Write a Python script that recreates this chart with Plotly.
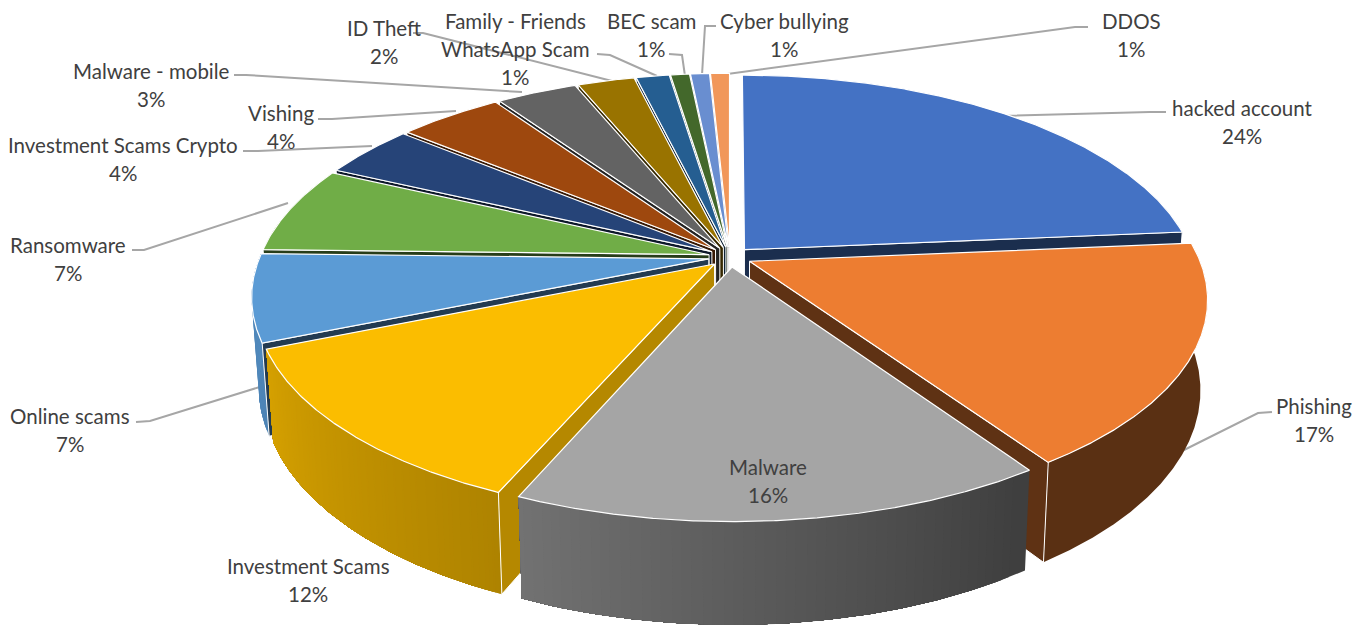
import math
import numpy as np
import plotly.graph_objects as go

# Breach categories and their share of incidents, in drawing order (clockwise from 12 o'clock)
categories = ["hacked account", "Phishing", "Malware", "Investment Scams", "Online scams",
              "Ransomware", "Investment Scams Crypto", "Vishing", "Malware - mobile", "ID Theft",
              "Family - Friends<br>WhatsApp Scam", "BEC scam", "Cyber bullying", "DDOS"]
shares = [23.6, 16.9, 16.0, 12.3, 6.6, 6.6, 4.0, 4.4, 3.4, 2.4, 1.4, 0.8, 0.8, 0.8]
slice_colors = ["#4472C4", "#ED7D31", "#A5A5A5", "#FBBD00", "#5B9BD5", "#70AD47", "#264478",
                "#9E480E", "#636363", "#997300", "#255E91", "#43682B", "#698ED0", "#F1975A"]
cut_face_shade = [0.40, 0.40, 0.40, 0.72, 0.38, 0.35, 0.35, 0.35, 0.35, 0.35, 0.35, 0.35, 0.35, 0.35]

# Label block centres (x, first line y) and leader polylines on the page grid
label_anchor = [(1242, 108), (1314, 406), (768, 467), (308, 566), (70, 416), (68, 245), (123, 145),
                (281, 113), (151, 71), (384, 28), (515, 21), (651, 21), (784, 21), (1131, 21)]
leader_paths = [
    [(1166, 112), (1150, 112), (1002, 116)],
    [(1272, 412), (1258, 413), (1178, 453)],
    None,
    None,
    [(136, 422), (150, 421), (263, 386)],
    [(132, 250), (144, 250), (288, 203)],
    [(243, 151), (258, 151), (372, 146)],
    [(318, 119), (332, 119), (456, 111)],
    [(234, 75), (246, 75), (522, 92)],
    [(413, 33), (423, 33), (612, 81)],
    [(597, 54), (610, 55), (657, 76)],
    [(669, 54), (682, 55), (685, 76)],
    [(716, 26), (705, 26), (702, 75)],
    [(1088, 27), (1075, 27), (720, 75)],
]

# Projection of the tilted disc
CX, CY = 730.0, 257.0
RX, RY = 449.0, 207.0
PERSPECTIVE = 0.172
PULL = 0.048
DEPTH = 88.0
FLOOR_SHRINK = 0.985


def top(u, v):
    w = 1 + PERSPECTIVE * v
    return CX + RX * u / w, CY - RY * v / w


def bottom(u, v):
    x, y = top(u, v)
    w = 1 + PERSPECTIVE * v
    return CX + (x - CX) * FLOOR_SHRINK, CY + (y - CY) * FLOOR_SHRINK + DEPTH / w


def rim_shade(theta):
    return float(np.interp(theta, [90, 147, 205, 248, 274], [0.38, 0.38, 0.70, 0.85, 0.90]))


def tint(color, k):
    r, g, b = (int(color[i:i + 2], 16) for i in (1, 3, 5))
    return f"rgb({r * k:.0f},{g * k:.0f},{b * k:.0f})"


fig = go.Figure()


def polygon(points, fill, line_color=None, line_width=0):
    xs = [p[0] for p in points] + [points[0][0]]
    ys = [p[1] for p in points] + [points[0][1]]
    line = dict(color=line_color, width=line_width) if line_color else dict(width=0)
    fig.add_trace(go.Scatter(x=xs, y=ys, mode="lines", fill="toself", fillcolor=fill, line=line,
                             hoverinfo="skip", showlegend=False))


# Leaders sit under the pie so they stop at the slice edges
for path in leader_paths:
    if path:
        fig.add_trace(go.Scatter(x=[p[0] for p in path], y=[p[1] for p in path], mode="lines",
                                 line=dict(color="#A6A6A6", width=2),
                                 hoverinfo="skip", showlegend=False))

total = sum(shares)
edges = np.cumsum([0] + shares) / total * 360.0
wedges = []
for i in range(len(shares)):
    a0, a1 = edges[i], edges[i + 1]
    mid = math.radians((a0 + a1) / 2)
    wedges.append((math.cos(mid), i, a0, a1, mid))

# Painter's order: far slices first
for depth_key, i, a0, a1, mid in sorted(wedges, key=lambda t: -t[0]):
    ox, oy = PULL * math.sin(mid), PULL * math.cos(mid)
    color = slice_colors[i]
    thetas = np.linspace(a0, a1, max(3, int((a1 - a0) * 4) + 1))
    uv = [(ox + math.sin(math.radians(t)), oy + math.cos(math.radians(t))) for t in thetas]

    # Outer rim: each tone band paints from its start to the far end of the arc,
    # and the next band overpaints it, so no seams open between bands
    last = None
    for j in range(len(thetas) - 1):
        if 75 < thetas[j + 1] and thetas[j] < 285:
            c = tint(color, rim_shade(thetas[j]))
            if c != last:
                tail = uv[j:]
                polygon([top(*p) for p in tail] + [bottom(*p) for p in reversed(tail)], c)
                last = c

    # Cut faces that turn toward the viewer
    if a1 < 180:
        polygon([top(ox, oy), top(*uv[-1]), bottom(*uv[-1]), bottom(ox, oy)],
                tint(color, cut_face_shade[i]), "white", 1.0)
    if a0 >= 180:
        polygon([top(ox, oy), top(*uv[0]), bottom(*uv[0]), bottom(ox, oy)],
                tint(color, cut_face_shade[i]), "white", 1.0)

    # Top face
    polygon([top(ox, oy)] + [top(*p) for p in uv], color, "white", 1.2)

annotations = []
for name, share, (lx, ly) in zip(categories, shares, label_anchor):
    for n, row in enumerate(name.split("<br>") + [f"{round(share)}%"]):
        annotations.append(dict(x=lx, y=ly + n * 28, xref="x", yref="y", text=row, showarrow=False,
                                font=dict(family="Lato", size=20.5, color="#404040"),
                                xanchor="center", yanchor="middle"))

fig.update_layout(
    width=1369, height=627, margin=dict(l=0, r=0, t=0, b=0, autoexpand=False),
    paper_bgcolor="white", plot_bgcolor="white", showlegend=False,
    xaxis=dict(range=[0, 1369], visible=False, fixedrange=True),
    yaxis=dict(range=[627, 0], visible=False, fixedrange=True),
    annotations=annotations,
)
fig.write_html("out.html", config=dict(displayModeBar=False))
